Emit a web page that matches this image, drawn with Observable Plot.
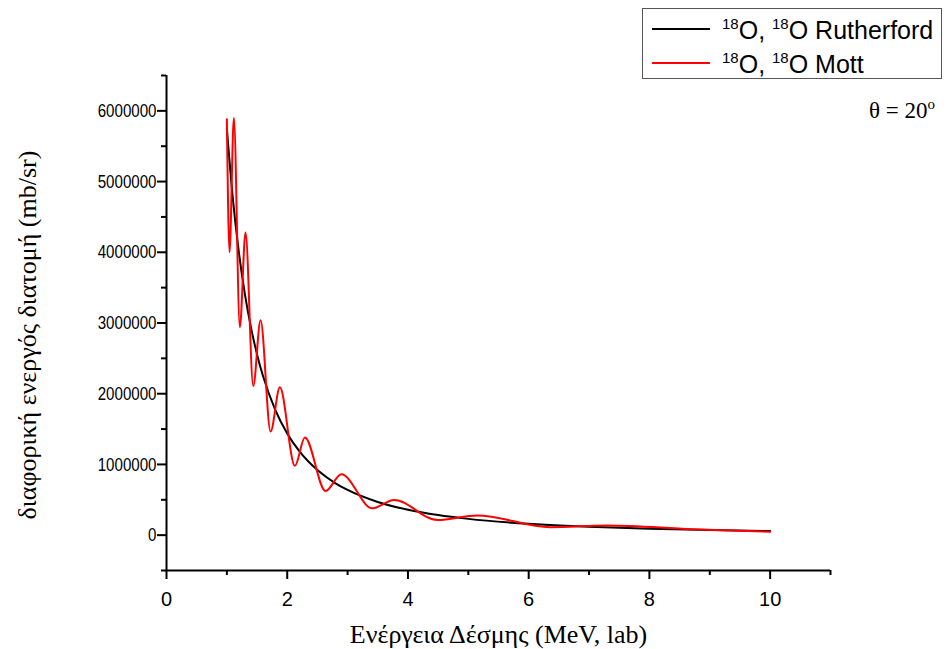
<!DOCTYPE html>
<html><head><meta charset="utf-8">
<script src="https://cdn.jsdelivr.net/npm/d3@7"></script>
<script src="https://cdn.jsdelivr.net/npm/@observablehq/plot@0.6"></script>
<style>
body{margin:0;background:#fff;}
#wrap{position:relative;width:946px;height:649px;overflow:hidden;}
#legend{position:absolute;left:642px;top:8px;width:300px;height:71px;border:1px solid #555;box-sizing:border-box;background:#fff;font-family:"Liberation Sans",Arial,sans-serif;font-size:25px;color:#000;}
.lrow{position:absolute;left:0;width:100%;height:34px;}
.lline{position:absolute;left:9px;width:58px;height:2px;}
.ltext{position:absolute;left:79px;white-space:nowrap;line-height:1;}
.ltext sup{font-size:15px;vertical-align:0;position:relative;top:-10px;}
#theta{position:absolute;left:869px;top:99px;font-family:"Liberation Serif","Times New Roman",serif;font-size:23px;white-space:nowrap;line-height:1;color:#000;}
#theta sup{font-size:15px;vertical-align:0;position:relative;top:-9px;}
</style>
</head><body>
<div id="wrap">
<div id="chart"></div>
<div id="legend">
  <div class="lrow" style="top:0px"><div class="lline" style="top:19px;background:#000"></div><div class="ltext" style="top:9px"><sup>18</sup>O, <sup>18</sup>O Rutherford</div></div>
  <div class="lrow" style="top:34px"><div class="lline" style="top:19px;background:#ff0000"></div><div class="ltext" style="top:9px"><sup>18</sup>O, <sup>18</sup>O Mott</div></div>
</div>
<div id="theta">θ = 20<sup>o</sup></div>
</div>
<script>
// Tick values
const xMajor = [0, 2, 4, 6, 8, 10];
const xMinor = [1, 3, 5, 7, 9, 11];
const yMajor = [0, 1000000, 2000000, 3000000, 4000000, 5000000, 6000000];
const yMinor = [-500000, 500000, 1500000, 2500000, 3500000, 4500000, 5500000, 6500000];

// Rutherford (black)
const ruthE = [1, 1.1, 1.2, 1.3, 1.4, 1.5, 1.6, 1.8, 2, 2.2, 2.5, 2.8, 3, 3.5, 4, 4.5, 5, 6, 7, 8, 9, 10];
const ruthSigma = [5750000, 4752000, 3993000, 3402000, 2934000, 2556000, 2246000, 1775000, 1438000, 1188000, 920000, 733000, 639000, 469000, 359000, 284000, 230000, 160000, 117000, 90000, 71000, 57500];

// Mott (red), extrema
const mottE = [1.0, 1.044, 1.116, 1.215, 1.309, 1.437, 1.558, 1.724, 1.878, 2.127, 2.292, 2.635, 2.896, 3.41, 3.77, 4.49, 5.15, 6.36, 7.30, 8.7, 10.0];
const mottSigma = [5880000, 4000000, 5900000, 2940000, 4280000, 2110000, 3040000, 1465000, 2090000, 980000, 1380000, 624000, 861000, 379000, 496000, 213000, 279000, 113000, 138000, 85000, 47000];

const xTitle = "Ενέργεια Δέσμης (MeV, lab)";
const yTitle = "διαφορική ενεργός διατομή (mb/sr)";

const ruth = ruthE.map((E, i) => ({E, s: ruthSigma[i]}));
const mott = mottE.map((E, i) => ({E, s: mottSigma[i]}));

const serif = "'Liberation Serif', 'Times New Roman', serif";

const chart = Plot.plot({
  width: 946, height: 649,
  marginLeft: 166, marginRight: 116, marginTop: 75, marginBottom: 79,
  x: {domain: [0, 11]},
  y: {domain: [-500000, 6500000]},
  style: {fontFamily: "'Liberation Sans', Arial, sans-serif", fontSize: "19px", color: "#000", background: "transparent"},
  marks: [
    Plot.axisX({ticks: xMajor, tickSize: 9, tickPadding: 12, tickFormat: d => String(d), strokeWidth: 2, label: null, fontSize: 20}),
    Plot.axisX({ticks: xMinor, tickSize: 5, text: null, strokeWidth: 2, label: null}),
    Plot.axisY({ticks: yMajor, tickSize: 9, tickPadding: 1, tickFormat: d => String(d), strokeWidth: 2, label: null}),
    Plot.axisY({ticks: yMinor, tickSize: 5, text: null, strokeWidth: 2, label: null}),
    Plot.ruleX([0], {strokeWidth: 2}),
    Plot.ruleY([-500000], {strokeWidth: 2}),
    Plot.line(ruth, {x: "E", y: "s", stroke: "#000", strokeWidth: 2, curve: "monotone-x"}),
    Plot.line(mott, {x: "E", y: "s", stroke: "#ff0000", strokeWidth: 2, curve: "monotone-x"}),
    Plot.text([xTitle], {frameAnchor: "bottom", dy: 64, text: d => d, fontFamily: serif, fontSize: 26, lineAnchor: "middle", textAnchor: "middle"}),
    Plot.text([yTitle], {frameAnchor: "left", dx: -139, dy: 12, text: d => d, rotate: -90, fontFamily: serif, fontSize: 26, lineAnchor: "middle", textAnchor: "middle"})
  ]
});
// condensed y tick labels (narrow digits as in the original)
d3.select(chart).selectAll('g[aria-label="y-axis tick label"] text')
  .each(function() {
    const n = this.textContent.length;
    this.setAttribute("textLength", (n * 8.4).toFixed(1));
    this.setAttribute("lengthAdjust", "spacingAndGlyphs");
  });
document.getElementById("chart").appendChild(chart);
</script>
</body></html>
